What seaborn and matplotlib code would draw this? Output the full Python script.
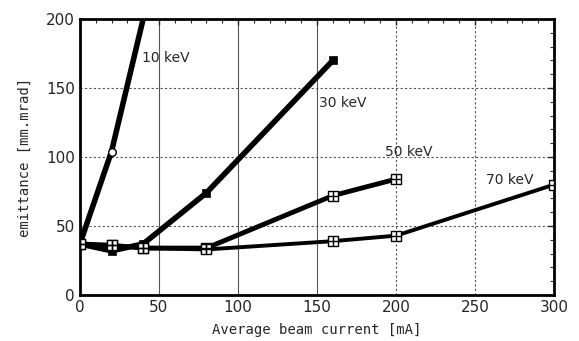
import seaborn as sns
import matplotlib.pyplot as plt
from matplotlib.ticker import MultipleLocator
import pandas as pd

# data
current_10 = [0, 20, 40]
emit_10 = [37, 104, 200]
current_30 = [0, 20, 40, 80, 160]
emit_30 = [37, 32, 37, 74, 170]
current_50 = [0, 20, 40, 80, 160, 200]
emit_50 = [37, 36, 34, 34, 72, 84]
current_70 = [0, 20, 40, 80, 160, 200, 300]
emit_70 = [37, 36, 34, 33, 39, 43, 80]

labels = ["10 keV", "30 keV", "50 keV", "70 keV"]
label_pos = [(39, 172), (151, 139), (193, 104), (257, 83)]

frames = []
for lab, xs, ys in zip(labels, [current_10, current_30, current_50, current_70],
                       [emit_10, emit_30, emit_50, emit_70]):
    frames.append(pd.DataFrame({"current": xs, "emittance": ys, "energy": lab}))
df = pd.concat(frames, ignore_index=True)

sns.set_style("white")
plt.rcParams["font.family"] = ["DejaVu Sans"]

fig = plt.figure(figsize=(5.79, 3.41), dpi=100)
ax = fig.add_axes([0.138, 0.135, 0.819, 0.809])

widths = {"10 keV": 4, "30 keV": 4, "50 keV": 3.5, "70 keV": 2.8}
for lab in labels:
    sub = df[df.energy == lab]
    sns.lineplot(data=sub, x="current", y="emittance", sort=False, color="black",
                 linewidth=widths[lab], ax=ax)
    if lab == "10 keV":
        sns.scatterplot(data=sub.iloc[1:2], x="current", y="emittance", marker="o", s=30,
                        facecolor="white", edgecolor="black", linewidth=1, ax=ax, zorder=3)
    elif lab == "30 keV":
        sns.scatterplot(data=sub, x="current", y="emittance", marker="s", s=40,
                        color="black", edgecolor="black", ax=ax, zorder=3)
    else:
        sns.scatterplot(data=sub, x="current", y="emittance", marker="s", s=55,
                        facecolor="white", edgecolor="black", linewidth=1, ax=ax, zorder=3)
        sns.scatterplot(data=sub, x="current", y="emittance", marker="+", s=55,
                        color="black", linewidth=1, ax=ax, zorder=4)

# grid: solid verticals up to 150, dotted beyond; dotted horizontals
for xv in [50, 100, 150]:
    ax.axvline(xv, color="#555555", lw=0.8, zorder=0)
for xv in [200, 250]:
    ax.axvline(xv, color="#555555", lw=0.8, ls=(0, (2, 2)), zorder=0)
for yv in [50, 100, 150]:
    ax.axhline(yv, color="#555555", lw=0.8, ls=(0, (2, 2)), zorder=0)

for lab, (tx, ty) in zip(labels, label_pos):
    ax.text(tx, ty, lab, fontsize=10, ha="left", va="center", family="DejaVu Sans")

ax.set_xlim(0, 300)
ax.set_ylim(0, 200)
ax.xaxis.set_major_locator(MultipleLocator(50))
ax.yaxis.set_major_locator(MultipleLocator(50))
ax.xaxis.set_minor_locator(MultipleLocator(10))
ax.yaxis.set_minor_locator(MultipleLocator(10))
ax.tick_params(which="both", direction="in", top=True, right=True, labelsize=11)
ax.tick_params(which="major", length=4, width=1)
ax.tick_params(which="minor", length=3, width=0.8)
for s in ax.spines.values():
    s.set_linewidth(2)
    s.set_color("black")

ax.set_xlabel("Average beam current [mA]", fontsize=10, family="DejaVu Sans Mono", labelpad=6)
ax.set_ylabel("emittance [mm.mrad]", fontsize=10, family="DejaVu Sans Mono", labelpad=10)

fig.savefig("out.png", dpi=100)
